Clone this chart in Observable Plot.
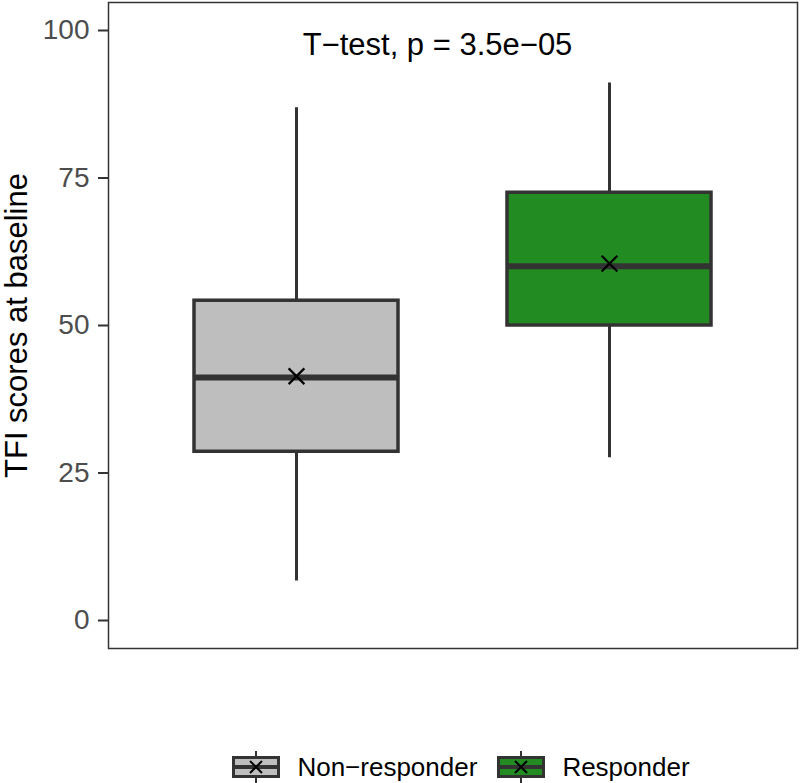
<!DOCTYPE html>
<html>
<head>
<meta charset="utf-8">
<script src="https://cdn.jsdelivr.net/npm/d3@7"></script>
<script src="https://cdn.jsdelivr.net/npm/@observablehq/plot@0.6"></script>
<style>
  html, body { margin: 0; padding: 0; background: #fff; }
  body { position: relative; width: 800px; height: 783px; overflow: hidden; font-family: "Liberation Sans", Arial, sans-serif; }
  #legend { position: absolute; left: 0; top: 752px; width: 800px; height: 30px; box-sizing: border-box; padding-left: 122px;
            display: flex; justify-content: center; align-items: center; font-size: 26px; color: #000; }
  .item { display: flex; align-items: center; margin: 0 10px; }
  .item svg { margin-right: 17px; }
</style>
</head>
<body>
<div id="chart"></div>
<div id="legend"></div>
<script>
// ---- data ----
const groups = ["Non\u2212responder", "Responder"];
const lowerWhisker = [6.7, 27.6];
const q1 = [28.6, 50.0];
const median = [41.2, 60.05];
const q3 = [54.2, 72.5];
const upperWhisker = [86.9, 91.1];
const mean = [41.4, 60.5];
const fillColors = ["#BEBEBE", "#228B22"];
const yTicks = [0, 25, 50, 75, 100];
const annotation = "T\u2212test, p = 3.5e\u221205";
const yLabel = "TFI scores at baseline";

const rows = groups.map((g, i) => ({
  group: g, lo: lowerWhisker[i], q1: q1[i], med: median[i], q3: q3[i], hi: upperWhisker[i], mean: mean[i]
}));

const dark = "#333333";

const chart = Plot.plot({
  width: 800,
  height: 700,
  marginLeft: 108,
  marginRight: 3,
  marginTop: 2,
  marginBottom: 52,
  style: { fontFamily: "'Liberation Sans', Arial, sans-serif", fontSize: "28px", background: "#fff", overflow: "visible" },
  x: { domain: groups, axis: null, paddingInner: 0.347, paddingOuter: 0.272 },
  y: { domain: [-4.745, 104.745], axis: null },
  color: { domain: groups, range: fillColors },
  marks: [
    Plot.frame({ stroke: dark, strokeWidth: 1.5 }),
    Plot.axisY({ ticks: yTicks, tickSize: 10, tickPadding: 0, text: null, stroke: dark, strokeWidth: 2, label: null }),
    Plot.axisY({ ticks: yTicks, tickSize: 0, tickPadding: 19, fill: "#4D4D4D", fontSize: 28, label: null }),
    Plot.text([yLabel], { frameAnchor: "left", dx: -91, rotate: -90, fontSize: 31, fill: "#000", textAnchor: "middle", lineAnchor: "middle" }),
    Plot.ruleX(rows, { x: "group", y1: "lo", y2: "hi", stroke: dark, strokeWidth: 3 }),
    Plot.barY(rows, { x: "group", y1: "q1", y2: "q3", fill: "group", stroke: dark, strokeWidth: 3.5 }),
    Plot.tickY(rows, { x: "group", y: "med", stroke: dark, strokeWidth: 6 }),
    Plot.dot(rows, { x: "group", y: "mean", symbol: "times", r: 7.2, stroke: "#000", strokeWidth: 2.2 }),
    Plot.text([annotation], { frameAnchor: "top", dx: -15.5, dy: 30, lineAnchor: "top", fontSize: 31, fill: "#000" })
  ]
});
document.getElementById("chart").appendChild(chart);

// ---- legend ----
const legend = d3.select("#legend");
groups.forEach((g, i) => {
  const item = legend.append("div").attr("class", "item");
  const s = item.append("svg").attr("width", 48).attr("height", 32);
  s.append("line").attr("x1", 24).attr("x2", 24).attr("y1", 0).attr("y2", 32).attr("stroke", dark).attr("stroke-width", 2);
  s.append("rect").attr("x", 1.5).attr("y", 6.5).attr("width", 45).attr("height", 19)
    .attr("fill", fillColors[i]).attr("stroke", dark).attr("stroke-width", 3);
  s.append("line").attr("x1", 1.5).attr("x2", 46.5).attr("y1", 16).attr("y2", 16).attr("stroke", dark).attr("stroke-width", 4);
  s.append("path").attr("d", "M18,10L30,22M18,22L30,10").attr("stroke", "#000").attr("stroke-width", 2).attr("fill", "none");
  item.append("span").text(g);
});
</script>
</body>
</html>
